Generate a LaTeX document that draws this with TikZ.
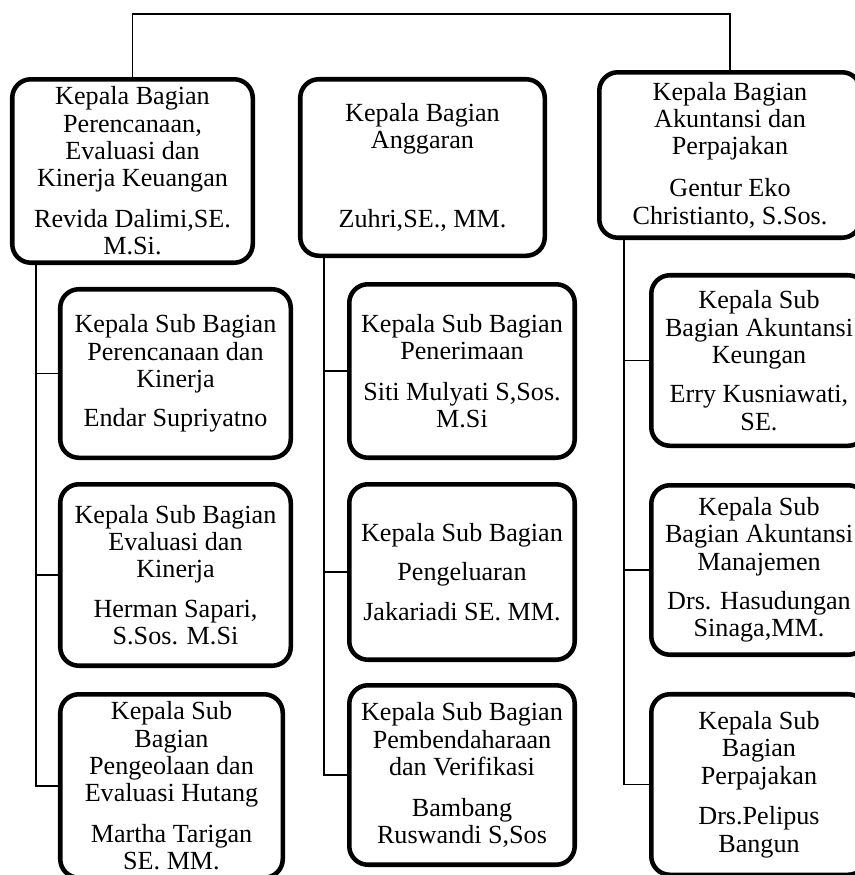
\documentclass[tikz,border=0pt]{standalone}
\usepackage{fontspec}
\setmainfont{Liberation Serif}
\usetikzlibrary{positioning}

\tikzset{
  orgbox/.style={draw, line width=3.4pt, rounded corners=14pt, align=center,
    inner sep=0pt, font=\fontsize{19.6}{20.5}\selectfont},
  conn/.style={line width=1.3pt}
}

\begin{document}
\begin{tikzpicture}[x=0.75pt, y=-0.75pt]
\useasboundingbox (0,0) rectangle (855,875);
\clip (0,0) rectangle (855,875);

% kepala bagian
\node[orgbox, minimum width=180.4pt, minimum height=137.6pt] (headL) at (132.5,171)
  {Kepala Bagian\\Perencanaan,\\Evaluasi dan\\Kinerja Keuangan\\[10pt]Revida Dalimi,SE.\\M.Si.};
\node[orgbox, minimum width=183.4pt, minimum height=132.4pt] (headM) at (422.5,167.5)
  {Kepala Bagian\\Anggaran\\[39pt]Zuhri,SE., MM.};
\node[orgbox, minimum width=196.1pt, minimum height=124.1pt] (headR) at (730,155)
  {Kepala Bagian\\Akuntansi dan\\Perpajakan\\[11pt]Gentur Eko\\Christianto, S.Sos.};

% sub bagian kiri
\node[orgbox, minimum width=172.9pt, minimum height=126.4pt] (subL1) at (175.5,373.5)
  {Kepala Sub Bagian\\Perencanaan dan\\Kinerja\\[9pt]Endar Supriyatno};
\node[orgbox, minimum width=172.9pt, minimum height=136.1pt] (subL2) at (175.5,575)
  {Kepala Sub Bagian\\Evaluasi dan\\Kinerja\\[9pt]Herman Sapari,\\S.Sos. M.Si};
\node[orgbox, minimum width=166.9pt, minimum height=137.6pt] (subL3) at (171.5,786)
  {Kepala Sub\\Bagian\\Pengeolaan dan\\Evaluasi Hutang\\[10pt]Martha Tarigan\\SE. MM.};

% sub bagian tengah
\node[orgbox, minimum width=169.1pt, minimum height=130.1pt] (subM1) at (462,371)
  {Kepala Sub Bagian\\Penerimaan\\[10pt]Siti Mulyati S,Sos.\\M.Si};
\node[orgbox, minimum width=169.1pt, minimum height=131.6pt] (subM2) at (462,572)
  {Kepala Sub Bagian\\[9pt]Pengeluaran\\[9pt]Jakariadi SE. MM.};
\node[orgbox, minimum width=169.1pt, minimum height=134.6pt] (subM3) at (462,775)
  {Kepala Sub Bagian\\Pembendaharaan\\dan Verifikasi\\[10pt]Bambang\\Ruswandi S,Sos};

% sub bagian kanan
\node[orgbox, minimum width=161.6pt, minimum height=127.9pt] (subR1) at (759,360.5)
  {Kepala Sub\\Bagian Akuntansi\\Keungan\\[9pt]Erry Kusniawati,\\SE.};
\node[orgbox, minimum width=161.6pt, minimum height=127.1pt] (subR2) at (759,570)
  {Kepala Sub\\Bagian Akuntansi\\Manajemen\\[9pt]Drs. Hasudungan\\Sinaga,MM.};
\node[orgbox, minimum width=161.6pt, minimum height=135.4pt] (subR3) at (759,784.5)
  {Kepala Sub\\Bagian\\Perpajakan\\[10pt]Drs.Pelipus\\Bangun};

% garis penghubung
\coordinate (bar) at (430,14);
\draw[conn] (headL.north) |- (bar) -| (headR.north);

\coordinate (spL) at (36,0);
\coordinate (spM) at (324,0);
\coordinate (spR) at (624,0);

\draw[conn] (headL.south -| spL) |- (subL3.west);
\draw[conn] (headM.south -| spM) |- (subM3.west);
\draw[conn] (headR.south -| spR) |- (subR3.west);

\foreach \s in {subL1,subL2} \draw[conn] (\s.west -| spL) -- (\s.west);
\foreach \s in {subM1,subM2} \draw[conn] (\s.west -| spM) -- (\s.west);
\foreach \s in {subR1,subR2} \draw[conn] (\s.west -| spR) -- (\s.west);

\end{tikzpicture}
\end{document}
